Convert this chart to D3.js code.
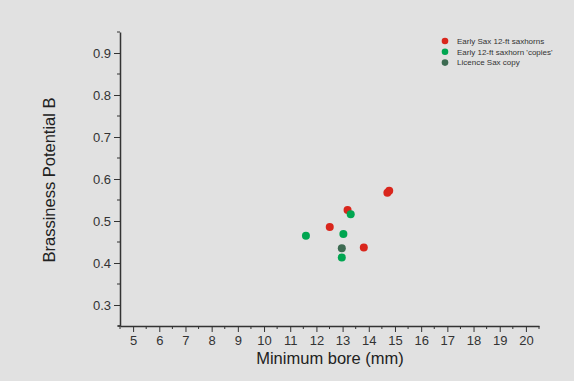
<!DOCTYPE html>
<html><head><meta charset="utf-8">
<script src="https://cdn.jsdelivr.net/npm/d3@7"></script>
<style>html,body{margin:0;padding:0;background:#e1e1e1;}svg{display:block;font-family:"Liberation Sans",Arial,sans-serif;}</style>
</head><body>
<script>
const seriesNames = ["Early Sax 12-ft saxhorns", "Early 12-ft saxhorn 'copies'", "Licence Sax copy"];
const seriesColors = ["#d9261c", "#00a651", "#3d6b52"];
const earlySax = [[14.71,0.567],[14.78,0.572],[13.19,0.526],[12.51,0.486],[13.81,0.437]];
const copies = [[13.31,0.516],[11.60,0.465],[13.03,0.469],[12.97,0.413]];
const licence = [[12.97,0.435]];
const xTicks = [5,6,7,8,9,10,11,12,13,14,15,16,17,18,19,20];
const yTicks = [0.3,0.4,0.5,0.6,0.7,0.8,0.9];

const W=574,H=381;
const svg=d3.select("body").append("svg").attr("width",W).attr("height",H);
svg.append("rect").attr("width",W).attr("height",H).attr("fill","#e1e1e1");
const x=d3.scaleLinear().domain([4.5,20.5]).range([120,539]);
const y=d3.scaleLinear().domain([0.25,0.95]).range([326,32]);
const axisColor="#333";

const xMinor=d3.range(4.5,20.51,0.5).filter(v=>Math.abs(v-Math.round(v))>0.01);
const yMinor=d3.range(0.25,0.951,0.05).map(v=>+v.toFixed(2)).filter(v=>Math.abs(v*10-Math.round(v*10))>0.01);

const gx=svg.append("g").attr("transform","translate(0,326)")
  .call(d3.axisBottom(x).tickValues(xTicks).tickSize(6).tickSizeOuter(0).tickPadding(4));
gx.append("g").selectAll("line").data(xMinor).join("line")
  .attr("x1",d=>x(d)).attr("x2",d=>x(d)).attr("y1",0).attr("y2",3).attr("stroke",axisColor);
const gy=svg.append("g").attr("transform","translate(120,0)")
  .call(d3.axisLeft(y).tickValues(yTicks).tickFormat(d3.format(".1f")).tickSize(6).tickSizeOuter(0).tickPadding(3));
gy.append("g").selectAll("line").data(yMinor).join("line")
  .attr("y1",d=>y(d)).attr("y2",d=>y(d)).attr("x1",0).attr("x2",-3).attr("stroke",axisColor);
[gx,gy].forEach(g=>{
  g.select(".domain").attr("stroke",axisColor).attr("stroke-width",1.5);
  g.selectAll(".tick line").attr("stroke",axisColor);
  g.selectAll(".tick text").attr("fill","#333").attr("font-size",13).attr("font-family","Liberation Sans, Arial, sans-serif");
});
svg.append("line").attr("x1",118).attr("x2",120).attr("y1",326).attr("y2",326).attr("stroke",axisColor).attr("stroke-width",1.5);

svg.append("text").attr("x",330).attr("y",364).attr("text-anchor","middle").attr("font-size",16.5).attr("fill","#222").text("Minimum bore (mm)");
svg.append("text").attr("transform","translate(55,180) rotate(-90)").attr("text-anchor","middle").attr("font-size",16.5).attr("fill","#222").text("Brassiness Potential B");

const data=[earlySax,copies,licence];
data.forEach((s,i)=>{
  svg.append("g").selectAll("circle").data(s).join("circle")
    .attr("cx",d=>x(d[0])).attr("cy",d=>y(d[1])).attr("r",4).attr("fill",seriesColors[i]);
});

const lg=svg.append("g");
seriesNames.forEach((n,i)=>{
  lg.append("circle").attr("cx",445).attr("cy",41+i*10.8).attr("r",3.3).attr("fill",seriesColors[i]);
  lg.append("text").attr("x",457).attr("y",41+i*10.8).attr("dy","0.35em").attr("font-size",8).attr("fill","#333").text(n);
});
</script>
</body></html>
